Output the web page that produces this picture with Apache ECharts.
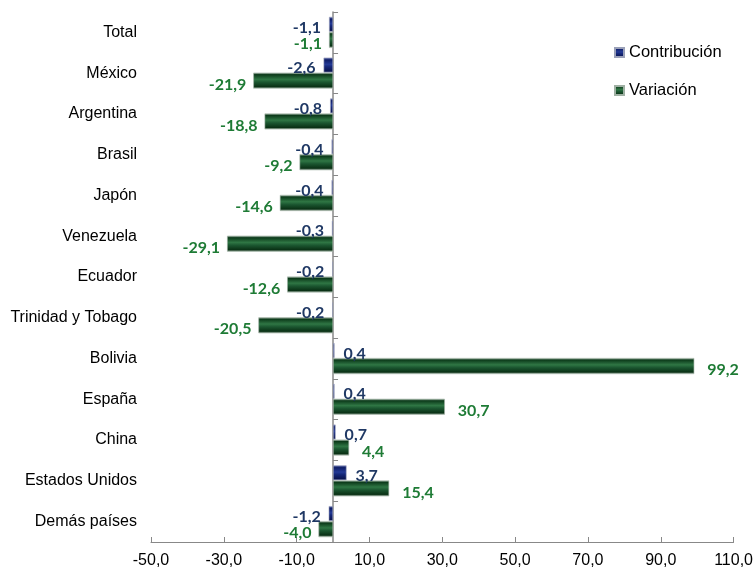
<!DOCTYPE html>
<html><head><meta charset="utf-8">
<script src="https://cdn.jsdelivr.net/npm/echarts@6/dist/echarts.min.js"></script>
<style>html,body{margin:0;padding:0;background:#fff}#c{width:756px;height:570px}</style>
</head><body><div id="c"></div>
<script>
const categories = ['Total','México','Argentina','Brasil','Japón','Venezuela','Ecuador','Trinidad y Tobago','Bolivia','España','China','Estados Unidos','Demás países'];
const contribucion = [-1.1,-2.6,-0.8,-0.4,-0.4,-0.3,-0.2,-0.2,0.4,0.4,0.7,3.7,-1.2];
const variacion = [-1.1,-21.9,-18.8,-9.2,-14.6,-29.1,-12.6,-20.5,99.2,30.7,4.4,15.4,-4.0];
const xMin = -50, xMax = 110, xStep = 20;

const fmt = v => v.toFixed(1).replace('.', ',');
const navyGrad = new echarts.graphic.LinearGradient(0,0,0,1,[
  {offset:0,color:'#6a78b8'},{offset:0.15,color:'#0e1d66'},{offset:0.45,color:'#243a96'},{offset:0.6,color:'#16287a'},{offset:0.9,color:'#0a1450'},{offset:1,color:'#7a84b0'}]);
const greenGrad = new echarts.graphic.LinearGradient(0,0,0,1,[
  {offset:0,color:'#b9c9bd'},{offset:0.12,color:'#0c3a1a'},{offset:0.42,color:'#2f7644'},{offset:0.6,color:'#1b5630'},{offset:0.88,color:'#0a3115'},{offset:1,color:'#a9b8ad'}]);

function build(arr, color, dpos, dneg) {
  return arr.map(v => ({
    value: v,
    label: { position: v < 0 ? 'left' : 'right', distance: v < 0 ? dneg : dpos, color: color }
  }));
}

const chart = echarts.init(document.getElementById('c'));
chart.setOption({
  animation: false,
  textStyle: { fontFamily: 'Liberation Sans' },
  legend: {
    orient: 'vertical', left: 609, top: 39, itemGap: 21,
    icon: 'rect', itemWidth: 9, itemHeight: 9,
    textStyle: { fontSize: 16.5, color: '#000', fontFamily: 'Liberation Sans', padding: [0,0,0,0] },
    data: ['Contribución','Variación']
  },
  grid: { left: 151, right: 22, top: 12, bottom: 28, containLabel: false },
  xAxis: [
    { type: 'value', min: xMin, max: xMax, show: false, splitLine: { show: false } },
    { type: 'value', min: 0, max: xMax - xMin, interval: xStep, position: 'bottom',
      axisLine: { show: true, onZero: false, lineStyle: { color: '#888', width: 1 } },
      axisTick: { show: true, inside: true, length: 5, lineStyle: { color: '#888' } },
      splitLine: { show: false },
      axisLabel: { color: '#000', fontSize: 16, margin: 11, fontFamily: 'Liberation Sans',
        formatter: v => fmt(v + xMin) } }
  ],
  yAxis: [
    { type: 'category', data: categories, inverse: true,
      axisLine: { show: false, onZero: false }, axisTick: { show: false }, splitLine: { show: false },
      axisLabel: { color: '#000', fontSize: 16, margin: 14, fontFamily: 'Liberation Sans' } },
    { type: 'category', data: categories, inverse: true, position: 'left',
      axisLine: { show: true, onZero: true, onZeroAxisIndex: 0, lineStyle: { color: '#888', width: 1.5 } },
      axisTick: { show: true, inside: true, length: 5, lineStyle: { color: '#888' } }, splitLine: { show: false },
      axisLabel: { show: false } }
  ],
  series: [
    { name: 'Contribución', type: 'bar', xAxisIndex: 0, yAxisIndex: 0,
      data: build(contribucion, '#1f3864', 9, 8),
      barWidth: 15, barGap: '0%', barCategoryGap: '24%',
      itemStyle: { color: navyGrad, borderColor: '#9aa0b8', borderWidth: 0.6 },
      label: { show: true, formatter: p => fmt(p.value), fontSize: 16, fontWeight: 'bold', fontFamily: 'Lato', offset: [0,3] } },
    { name: 'Variación', type: 'bar', xAxisIndex: 0, yAxisIndex: 0,
      data: build(variacion, '#1e7b35', 13, 7),
      barWidth: 16, barGap: '0%',
      itemStyle: { color: greenGrad, borderColor: '#9fb0a3', borderWidth: 0.6 },
      label: { show: true, formatter: p => fmt(p.value), fontSize: 16, fontWeight: 'bold', fontFamily: 'Lato', offset: [0,4] } }
  ]
});
</script></body></html>
